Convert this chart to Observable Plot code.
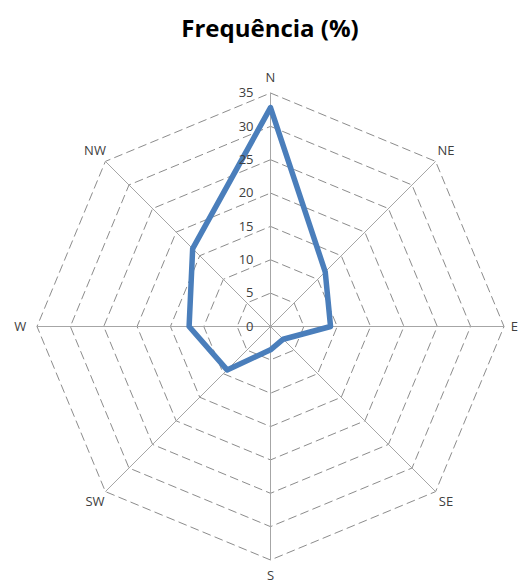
<!DOCTYPE html>
<html>
<head>
<meta charset="utf-8">
<script src="https://cdn.jsdelivr.net/npm/d3@7"></script>
<script src="https://cdn.jsdelivr.net/npm/@observablehq/plot@0.6"></script>
<style>
  html, body { margin: 0; padding: 0; background: #fff; }
  #title { position: relative; height: 56px; width: 520px; }
  #title span { position: absolute; left: 270px; top: 11px; transform: translateX(-50%);
    font-family: "Open Sans", sans-serif; font-weight: 700; font-size: 24px; color: #000; white-space: nowrap; letter-spacing: 0px; }
</style>
</head>
<body>
<div id="title"><span>Frequência (%)</span></div>
<div id="chart"></div>
<script>
const directions = ["N", "NE", "E", "SE", "S", "SW", "W", "NW"];
const frequency = [32.8, 11.6, 9.0, 2.7, 3.5, 9.2, 12.2, 16.5];
const tickValues = [0, 5, 10, 15, 20, 25, 30, 35];

const maxR = 35;
const W = 520, H = 532;
const k = 233.5 / maxR;           // px per unit
const cx = 270, cy = 270;          // centre in SVG px
const angle = i => i * Math.PI / 4;

// series polygon
const series = directions.map((d, i) => ({
  dir: d,
  x: frequency[i] * Math.sin(angle(i)),
  y: frequency[i] * Math.cos(angle(i))
}));
series.push(series[0]);

// grid octagons
const grid = [];
tickValues.filter(t => t > 0).forEach(t => {
  for (let i = 0; i <= directions.length; i++) {
    const j = i % directions.length;
    grid.push({t, x: t * Math.sin(angle(j)), y: t * Math.cos(angle(j))});
  }
});

// spokes
const spokes = directions.map((d, i) => ({
  x1: 0, y1: 0, x2: maxR * Math.sin(angle(i)), y2: maxR * Math.cos(angle(i))
}));

// direction labels
const labelR = 37.2;
const labels = directions.map((d, i) => ({
  dir: d,
  x: labelR * Math.sin(angle(i)),
  y: labelR * Math.cos(angle(i))
}));

const ticks = tickValues.map(t => ({t, x: 0, y: t}));

const chart = Plot.plot({
  width: W,
  height: H,
  margin: 0,
  x: {domain: [-cx / k, (W - cx) / k], axis: null},
  y: {domain: [-(H - cy) / k, cy / k], axis: null},
  style: {fontFamily: "'Open Sans', sans-serif", background: "#fff"},
  marks: [
    Plot.line(grid, {x: "x", y: "y", z: "t", stroke: "#8c8c8c", strokeWidth: 1, strokeDasharray: "8,5", curve: "linear"}),
    Plot.link(spokes, {x1: "x1", y1: "y1", x2: "x2", y2: "y2", stroke: "#a6a6a6", strokeWidth: 1}),
    Plot.line(series, {x: "x", y: "y", stroke: "#4a7ebb", strokeWidth: 5.5, strokeLinejoin: "round", strokeLinecap: "round"}),
    Plot.text(ticks, {x: "x", y: "y", text: d => String(d.t), textAnchor: "end", dx: -17, fontSize: 13, fill: "#404040"}),
    Plot.text(labels.filter(l => l.dir === "N"), {x: "x", y: "y", text: "dir", lineAnchor: "bottom", fontSize: 13, fill: "#404040", dy: 4}),
    Plot.text(labels.filter(l => l.dir === "S"), {x: "x", y: "y", text: "dir", lineAnchor: "top", fontSize: 13, fill: "#404040", dy: -4}),
    Plot.text(labels.filter(l => l.dir === "E"), {x: "x", y: "y", text: "dir", textAnchor: "start", fontSize: 13, fill: "#404040", dx: -8}),
    Plot.text(labels.filter(l => l.dir === "W"), {x: "x", y: "y", text: "dir", textAnchor: "end", fontSize: 13, fill: "#404040", dx: 4}),
    Plot.text(labels.filter(l => l.dir.length === 2), {x: "x", y: "y", text: "dir", textAnchor: "middle", fontSize: 13, fill: "#404040"})
  ]
});
document.getElementById("chart").appendChild(chart);
</script>
</body>
</html>
